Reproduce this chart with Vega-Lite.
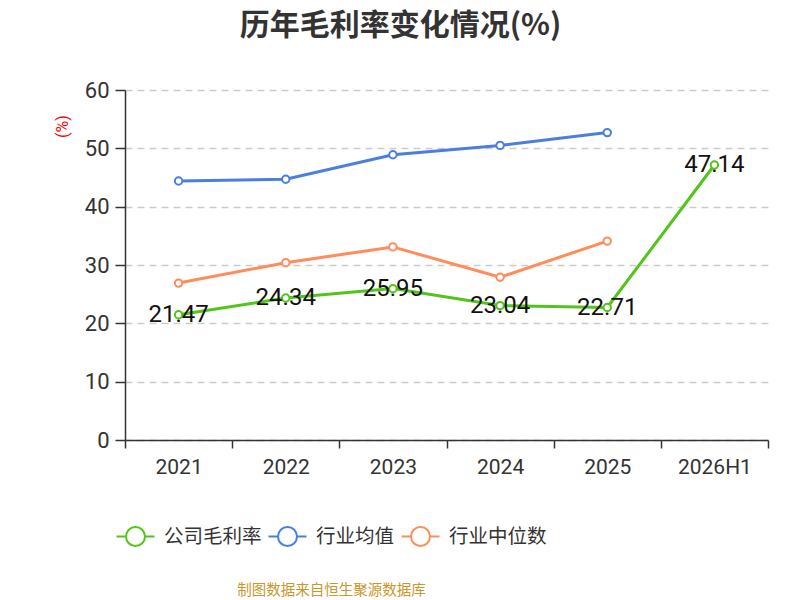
{
  "$schema": "https://vega.github.io/schema/vega-lite/v6.json",
  "description": "历年毛利率变化情况",
  "autosize": {"type": "none"},
  "padding": {"left": 125, "top": 90, "right": 32, "bottom": 160},
  "width": 643,
  "height": 350,
  "background": "white",
  "title": {
    "text": "历年毛利率变化情况(%)",
    "fontSize": 30,
    "fontWeight": "bold",
    "color": "#333333",
    "font": "Noto Sans CJK SC",
    "anchor": "middle",
    "dx": -46,
    "offset": 38
  },
  "config": {
    "view": {"stroke": null},
    "font": "Roboto, Noto Sans CJK SC"
  },
  "data": {
    "values": [
      {"year": "2021", "series": "公司毛利率", "value": 21.47},
      {"year": "2022", "series": "公司毛利率", "value": 24.34},
      {"year": "2023", "series": "公司毛利率", "value": 25.95},
      {"year": "2024", "series": "公司毛利率", "value": 23.04},
      {"year": "2025", "series": "公司毛利率", "value": 22.71},
      {"year": "2026H1", "series": "公司毛利率", "value": 47.14},
      {"year": "2021", "series": "行业均值", "value": 44.4},
      {"year": "2022", "series": "行业均值", "value": 44.7},
      {"year": "2023", "series": "行业均值", "value": 48.9},
      {"year": "2024", "series": "行业均值", "value": 50.5},
      {"year": "2025", "series": "行业均值", "value": 52.7},
      {"year": "2021", "series": "行业中位数", "value": 26.9},
      {"year": "2022", "series": "行业中位数", "value": 30.4},
      {"year": "2023", "series": "行业中位数", "value": 33.1},
      {"year": "2024", "series": "行业中位数", "value": 27.9},
      {"year": "2025", "series": "行业中位数", "value": 34.1}
    ]
  },
  "encoding": {
    "x": {
      "field": "year",
      "type": "nominal",
      "sort": ["2021", "2022", "2023", "2024", "2025", "2026H1"],
      "bandPosition": 0.5,
      "scale": {"type": "band", "paddingInner": 0, "paddingOuter": 0},
      "title": "制图数据来自恒生聚源数据库",
      "axis": {
        "labelAngle": 0,
        "labelFontSize": 21,
        "labelColor": "#333333",
        "labelPadding": 8,
        "tickBand": "extent",
        "tickSize": 8,
        "tickColor": "#333333",
        "tickWidth": 1.5,
        "domainColor": "#333333",
        "domainWidth": 1.5,
        "grid": false,
        "titleFontSize": 14.5,
        "titleFontWeight": "normal",
        "titleColor": "#c9972b",
        "titleFont": "Noto Sans CJK SC",
        "titleX": 206,
        "titleY": 150,
        "titleAlign": "center",
        "titleBaseline": "middle"
      }
    },
    "y": {
      "field": "value",
      "type": "quantitative",
      "scale": {"domain": [0, 60]},
      "title": "(%)",
      "axis": {
        "values": [0, 10, 20, 30, 40, 50, 60],
        "labelFontSize": 22,
        "labelColor": "#333333",
        "labelPadding": 6,
        "tickSize": 10,
        "tickColor": "#333333",
        "tickWidth": 1.5,
        "domainColor": "#333333",
        "domainWidth": 1.5,
        "gridColor": "#cccccc",
        "gridDash": [7, 5],
        "gridWidth": 1.5,
        "titleColor": "#ff0000",
        "titleFontSize": 16,
        "titleFontWeight": "normal",
        "titleX": -63,
        "titleY": 36,
        "titleAlign": "center",
        "titleBaseline": "middle"
      }
    }
  },
  "layer": [
    {
      "mark": {
        "type": "line",
        "strokeWidth": 3,
        "point": {"filled": false, "fill": "white", "size": 55, "strokeWidth": 2}
      },
      "encoding": {
        "color": {
          "field": "series",
          "type": "nominal",
          "sort": ["公司毛利率", "行业均值", "行业中位数"],
          "scale": {
            "domain": ["公司毛利率", "行业均值", "行业中位数"],
            "range": ["#52c41a", "#4a7fe0", "#ff8c5a"]
          },
          "legend": {
            "title": null,
            "orient": "none",
            "direction": "horizontal",
            "legendX": 0,
            "legendY": 436,
            "symbolType": "M-2,0L-1,0M1,0L2,0M-1,0A1,1 0 1,0 1,0A1,1 0 1,0 -1,0Z",
            "symbolSize": 361,
            "symbolStrokeWidth": 2,
            "symbolFillColor": "white",
            "labelFontSize": 19.5,
            "labelColor": "#333333",
            "labelFont": "Noto Sans CJK SC",
            "labelOffset": 18,
            "columnPadding": 2
          }
        },
        "order": {"field": "series"}
      }
    },
    {
      "transform": [{"filter": "datum.series === '公司毛利率'"}],
      "mark": {
        "type": "text",
        "fontSize": 24,
        "color": "#111111",
        "baseline": "middle",
        "align": "center"
      },
      "encoding": {
        "text": {"field": "value", "type": "quantitative", "format": ".2f"}
      }
    }
  ]
}
